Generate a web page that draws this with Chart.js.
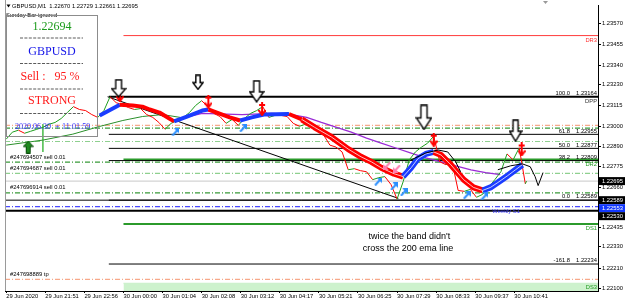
<!DOCTYPE html>
<html>
<head>
<meta charset="utf-8">
<script src="https://cdn.jsdelivr.net/npm/chart.js@4.4.0/dist/chart.umd.min.js"></script>
<style>
html, body { margin: 0; padding: 0; background: #fff; }
#wrap { position: relative; width: 625px; height: 303px; }
</style>
</head>
<body>
<div id="wrap"><canvas id="chart" width="625" height="303"></canvas></div>
<script>
// time axis (M1 bars, one label every 64 bars)
const timeTickBars = [0, 64, 128, 192, 256, 320, 384, 448, 512, 576, 640, 704, 768, 832];
const timeLabels = ['29 Jun 2020', '29 Jun 21:51', '29 Jun 22:56', '30 Jun 00:00', '30 Jun 01:04', '30 Jun 02:08',
    '30 Jun 03:12', '30 Jun 04:17', '30 Jun 05:21', '30 Jun 06:25', '30 Jun 07:29', '30 Jun 08:33', '30 Jun 09:37', '30 Jun 10:41'];
const priceTicks = [1.23570, 1.23455, 1.23340, 1.23230, 1.23115, 1.23000, 1.22890, 1.22775, 1.22660, 1.22435, 1.22330, 1.22210, 1.22100];

// price (closes sampled every 10 bars)
const priceBars = [0,10,20,30,40,50,60,70,80,90,100,110,120,130,140,150,160,170,180,190,200,210,220,230,240,250,260,270,280,290,
    300,310,320,330,340,350,360,370,380,390,400,410,420,430,440,450,460,470,480,490,500,510,520,530,540,550,560,570,580,590,
    600,610,620,630,640,650,660,670,680,690,700,710,720,730,740,750,760,770,780,790,800,810,820,830,840,850,852];
const priceCloses = [
    1.22928,1.22967,1.22978,1.22961,1.22972,1.22983,1.22994,1.23011,1.23021,1.23043,
    1.23076,1.23109,1.23093,1.23087,1.23065,1.23049,1.23087,1.23164,1.23131,1.23120,
    1.23104,1.23093,1.23098,1.23065,1.23049,1.23021,1.22983,1.23016,1.23032,1.23049,
    1.23076,1.23115,1.23142,1.23109,1.23071,1.23054,1.23016,1.23038,1.23005,1.23043,
    1.23071,1.23087,1.23109,1.23049,1.23060,1.23060,1.23054,1.23016,1.23000,1.23011,
    1.22994,1.22972,1.22950,1.22895,1.22884,1.22857,1.22758,1.22764,1.22753,1.22747,
    1.22703,1.22714,1.22720,1.22676,1.22595,1.22692,1.22813,1.22857,1.22884,1.22906,
    1.22945,1.22802,1.22786,1.22802,1.22643,1.22638,1.22649,1.22605,1.22621,1.22660,
    1.22703,1.22747,1.22846,1.22813,1.22880,1.22680,1.22695];

// red/blue band
const bandBars = [153,186,207,223,235,251,267,275,296,321,331,345,366,383,402,422,443,463,484,505,
    533,560,581,598,614,635,650,663,674,687,700,712,728,749,765,780,793,805,821,834,845];
const bandValues = [1.23060,1.23120,1.23115,1.23109,1.23093,1.23076,1.23043,1.23027,1.23054,1.23087,
    1.23093,1.23076,1.23049,1.23032,1.23049,1.23065,1.23066,1.23068,1.23038,1.22994,
    1.22939,1.22873,1.22830,1.22802,1.22769,1.22736,1.22720,1.22769,1.22819,1.22846,
    1.22857,1.22840,1.22786,1.22703,1.22660,1.22643,1.22660,1.22687,1.22725,1.22758,1.22786];

// 200 ema (purple) and the green ma
const emaBars = [272,321,386,435,467,492,516,541,565,590,614,638,663,687,712,736,761,785,809];
const emaValues = [1.23032,1.23071,1.23065,1.23071,1.23065,1.23049,1.23021,1.22994,1.22967,1.22934,
    1.22906,1.22879,1.22851,1.22824,1.22802,1.22780,1.22758,1.22742,1.22731];
const maBars = [0,60,109,153,191,223,256,285];
const maValues = [1.22895,1.22923,1.22956,1.22999,1.23032,1.23054,1.23065,1.23049];

// drawn objects
const trendBars = [166, 642];
const trendValues = [1.23164, 1.22599];
const swoosh1Bars = [663, 687, 707, 723, 736, 744];
const swoosh1Values = [1.22813, 1.22851, 1.22868, 1.22857, 1.22802, 1.22747];
const swoosh2Bars = [805, 826, 845, 858, 866, 871, 879];
const swoosh2Values = [1.22758, 1.22780, 1.22791, 1.22775, 1.22720, 1.22670, 1.22742];
const cursorBars = [60, 60];
const cursorValues = [1.23011, 1.22857];

// signal arrows
const bigArrowBars = [184, 314, 410, 684, 834];
const bigArrowPrices = [1.23211, 1.23244, 1.23194, 1.23049, 1.22975];
const sellArrowBars = [186, 331, 419, 700, 844];
const sellArrowPrices = [1.23172, 1.23137, 1.23096, 1.22925, 1.22871];
const upArrowBars = [277, 388, 609, 635, 651, 754, 783];
const upArrowPrices = [1.22967, 1.22989, 1.22692, 1.22665, 1.22632, 1.22616, 1.22610];
const pinkArrowBars = [624, 640];
const pinkArrowPrices = [1.22780, 1.22764];
const buyArrowBars = [36];
const buyArrowPrices = [1.22884];

// levels
const fibStartBar = 168;
const fibRatios = ['100.0', '61.8', '50.0', '38.2', '0.0', '-161.8'];
const fibPrices = [1.23164, 1.22955, 1.22877, 1.22809, 1.22589, 1.22234];
const pivotStartBar = 192;
const pivotNames = ['DR3', 'DPP', 'DR2', 'DS1', 'DS3'];
const pivotPrices = [1.23504, 1.23164, 1.22815, 1.22457, 1.22127];
const orderPrices = [1.23005, 1.22989, 1.22915, 1.22800, 1.22738, 1.22630, 1.22149];
const orderKinds = ['tp', 'open', 'open2', 'open', 'open2', 'open', 'tp'];
const orderTexts = ['', '', '', '#247694507 sell 0.01', '#247694687 sell 0.01', '#247696914 sell 0.01', '#247698889 tp'];
const hLinePrices = [1.22589, 1.22530];
const bidPrice = 1.22695;
const weeklyS1 = 1.22553;
const axisMarkPrices = [1.22695, 1.22589, 1.22553, 1.22530];

const X_MIN = -2, X_MAX = 969;
const SMALL = '5.8px "Liberation Sans", Arial, sans-serif';
const SERIF = '"Liberation Serif", "Times New Roman", serif';

function pts(xs, ys) { return xs.map((x, i) => ({ x: x, y: ys[i] })); }

function lineSet(data, color, width, dash) {
    return { data: data, borderColor: color, borderWidth: width, borderDash: dash || [],
        showLine: true, pointRadius: 0, fill: false };
}
function hLine(price, fromBar, color, width, dash) {
    return lineSet([{ x: fromBar, y: price }, { x: X_MAX, y: price }], color, width, dash);
}

function makeCanvas(w, h, draw) {
    const c = document.createElement('canvas');
    c.width = w; c.height = h;
    draw(c.getContext('2d'), w, h);
    return c;
}
function hollowArrow(w, h) {
    return makeCanvas(w, h, function(g) {
        const s = w * 0.18, hy = h * 0.52;
        g.beginPath();
        g.moveTo(w / 2 - s, 1); g.lineTo(w / 2 + s, 1); g.lineTo(w / 2 + s, hy);
        g.lineTo(w - 1, hy); g.lineTo(w / 2, h - 1); g.lineTo(1, hy); g.lineTo(w / 2 - s, hy);
        g.closePath();
        g.fillStyle = '#fff'; g.fill();
        g.lineWidth = 1.4; g.strokeStyle = '#000'; g.stroke();
    });
}
const redArrow = makeCanvas(8, 14, function(g) {
    g.strokeStyle = '#ff0000'; g.lineWidth = 2;
    g.beginPath(); g.moveTo(4, 0); g.lineTo(4, 13); g.stroke();
    g.beginPath(); g.moveTo(1, 3); g.lineTo(7, 3); g.stroke();
    g.beginPath(); g.moveTo(0.5, 8); g.lineTo(4, 13); g.lineTo(7.5, 8); g.stroke();
});
function diagArrow(color) {
    return makeCanvas(8, 8, function(g) {
        g.fillStyle = color; g.strokeStyle = color;
        g.beginPath(); g.moveTo(8, 0); g.lineTo(8, 5.5); g.lineTo(2.5, 0); g.closePath(); g.fill();
        g.lineWidth = 2; g.beginPath(); g.moveTo(1, 7.5); g.lineTo(6, 2); g.stroke();
    });
}
const buyArrow = makeCanvas(11, 13, function(g) {
    g.beginPath();
    g.moveTo(5.5, 0.5); g.lineTo(10.5, 6); g.lineTo(7.5, 6); g.lineTo(7.5, 12.5);
    g.lineTo(3.5, 12.5); g.lineTo(3.5, 6); g.lineTo(0.5, 6); g.closePath();
    g.fillStyle = '#1f8a1f'; g.fill(); g.lineWidth = 1; g.strokeStyle = '#0b4d0b'; g.stroke();
});
const bigArrowImgs = [hollowArrow(16, 19), hollowArrow(12, 16), hollowArrow(16, 23), hollowArrow(17, 26), hollowArrow(14, 23)];

function markerSet(data, style, rotation) {
    return { data: data, showLine: false, pointRadius: 3, pointStyle: style, rotation: rotation || 0 };
}

const datasets = [];
datasets.push(markerSet(pts(bigArrowBars, bigArrowPrices), function(c) { return bigArrowImgs[c.dataIndex]; }));
datasets.push(markerSet(pts(sellArrowBars, sellArrowPrices), redArrow));
datasets.push(markerSet(pts(upArrowBars, upArrowPrices), diagArrow('#2b8fff')));
datasets.push(markerSet(pts(pinkArrowBars, pinkArrowPrices), diagArrow('#ff7fb0'), 180));
datasets.push(markerSet(pts(buyArrowBars, buyArrowPrices), buyArrow));
datasets.push(lineSet(pts(swoosh1Bars, swoosh1Values), '#000', 1));
datasets.push(lineSet(pts(swoosh2Bars, swoosh2Values), '#000', 1));

// band, with a thin light stripe on the wider ribbon part
const bandStripe = lineSet(pts(bandBars, bandValues), 'rgba(255,255,255,0)', 1);
bandStripe.segment = { borderColor: function(c) { return c.p0.parsed.x >= 484 ? 'rgba(255,255,255,0.75)' : 'rgba(255,255,255,0)'; } };
datasets.push(bandStripe);
const band = lineSet(pts(bandBars, bandValues), '#ff0000', 4);
band.segment = {
    borderColor: function(c) { return c.p1.parsed.y > c.p0.parsed.y ? '#1a3cff' : '#ff0000'; },
    borderWidth: function(c) { return c.p0.parsed.x >= 484 ? 6 : 4; }
};
band.borderJoinStyle = 'round';
datasets.push(band);

const price = lineSet(pts(priceBars, priceCloses), '#ff0000', 1);
price.segment = { borderColor: function(c) { return c.p1.parsed.y >= c.p0.parsed.y ? '#1e9e1e' : '#ff0000'; } };
datasets.push(price);
datasets.push(lineSet(pts(emaBars, emaValues), '#9a2bd6', 1.3));
datasets.push(lineSet(pts(maBars, maValues), '#2a8f2a', 1));
datasets.push(lineSet(pts(trendBars, trendValues), '#000', 1));
datasets.push(lineSet(pts(cursorBars, cursorValues), '#5cc35c', 1));

// fibo
fibPrices.forEach(function(p, i) {
    datasets.push(hLine(p, fibStartBar, '#000', i === 0 ? 2 : 1));
});
// pivots
const pivotColors = { DR3: '#ff3b3b', DPP: 'rgba(0,0,0,0)', DR2: '#2b9a2b', DS1: '#2b9a2b' };
pivotNames.forEach(function(n, i) {
    if (n === 'DS3') {
        const ds = hLine(pivotPrices[i], pivotStartBar, '#c9f0c9', 1);
        ds.fill = 'start';
        ds.backgroundColor = '#cdf2cd';
        datasets.push(ds);
    } else {
        datasets.push(hLine(pivotPrices[i], pivotStartBar, pivotColors[n], n === 'DR3' ? 1 : 2));
    }
});
// order lines
const orderColors = { open: '#3a9a3a', open2: '#8fd08f', tp: '#f7a98a' };
orderPrices.forEach(function(p, i) {
    datasets.push(hLine(p, X_MIN, orderColors[orderKinds[i]], 1.2, [5, 2, 1, 2]));
});
hLinePrices.forEach(function(p, i) {
    datasets.push(hLine(p, X_MIN, '#000', i === 1 ? 2 : 1));
});
datasets.push(hLine(weeklyS1, X_MIN, '#4a4aff', 1.2, [5, 2, 1, 2]));
datasets.push(hLine(bidPrice, X_MIN, '#c8c8c8', 1));

const mtText = {
    id: 'mtText',
    afterDatasetsDraw: function(chart) {
        const ctx = chart.ctx, a = chart.chartArea, x = chart.scales.x, y = chart.scales.y;
        ctx.save();
        ctx.font = SMALL;
        // fibo labels
        ctx.fillStyle = '#000';
        ctx.textBaseline = 'bottom';
        ctx.textAlign = 'right';
        fibPrices.forEach(function(p, i) {
            const py = y.getPixelForValue(p);
            ctx.fillText(fibRatios[i], a.right - 28, py - 0.5);
            ctx.fillText(p.toFixed(5), a.right - 1, py - 0.5);
        });
        // pivot labels
        const labelColors = { DR3: '#ff3030', DPP: '#333', DR2: '#1f9a1f', DS1: '#1f9a1f', DS3: '#1f9a1f' };
        ctx.textBaseline = 'top';
        pivotNames.forEach(function(n, i) {
            ctx.fillStyle = labelColors[n];
            ctx.fillText(n, a.right - 1, y.getPixelForValue(pivotPrices[i]) + 1.5);
        });
        // order labels
        ctx.textAlign = 'left';
        ctx.textBaseline = 'bottom';
        ctx.fillStyle = '#000';
        orderTexts.forEach(function(t, i) {
            if (t) ctx.fillText(t, a.left + 5, y.getPixelForValue(orderPrices[i]) - 2);
        });
        ctx.fillStyle = '#3a3aff';
        ctx.textBaseline = 'top';
        ctx.fillText('Weekly S1', x.getPixelForValue(796), y.getPixelForValue(weeklyS1) + 1.5);
        // note
        ctx.fillStyle = '#000';
        ctx.font = '9px "Liberation Sans", Arial, sans-serif';
        ctx.textAlign = 'center';
        ctx.textBaseline = 'middle';
        ctx.fillText("twice the band didn't", x.getPixelForValue(660), y.getPixelForValue(1.22388));
        ctx.fillText('cross the 200 ema line', x.getPixelForValue(658), y.getPixelForValue(1.22320));
        ctx.restore();
    },
    afterDraw: function(chart) {
        const ctx = chart.ctx, a = chart.chartArea, y = chart.scales.y;
        ctx.save();
        // left frame
        ctx.strokeStyle = '#9a9a9a'; ctx.lineWidth = 1;
        ctx.beginPath(); ctx.moveTo(a.left + 0.5, 0); ctx.lineTo(a.left + 0.5, a.bottom); ctx.stroke();
        // price marks on the axis
        const markColors = ['#000', '#000', '#1238ff', '#000'];
        let prev = -100;
        ctx.font = SMALL; ctx.textAlign = 'left'; ctx.textBaseline = 'middle';
        axisMarkPrices.forEach(function(p, i) {
            let py = y.getPixelForValue(p);
            if (py < prev + 8) py = prev + 8;
            prev = py;
            ctx.fillStyle = markColors[i];
            ctx.fillRect(a.right + 1, py - 4, 26, 8);
            ctx.fillStyle = '#fff';
            ctx.fillText(p.toFixed(5), a.right + 4, py + 0.5);
        });
        // title
        ctx.fillStyle = '#000';
        ctx.beginPath(); ctx.moveTo(6.5, 4.5); ctx.lineTo(10.5, 4.5); ctx.lineTo(8.5, 7.5); ctx.closePath(); ctx.fill();
        ctx.fillText('GBPUSD,M1  1.22670 1.22729 1.22661 1.22695', 12, 6);
        ctx.fillText('Sunday Bar ignored', 6, 15);
        ctx.fillStyle = '#999';
        ctx.beginPath(); ctx.moveTo(543, 1); ctx.lineTo(548, 1); ctx.lineTo(545.5, 4); ctx.closePath(); ctx.fill();
        // info box
        ctx.strokeStyle = '#8c8c8c';
        ctx.strokeRect(6.5, 15.5, 91, 121);
        ctx.textAlign = 'center';
        ctx.font = '12px ' + SERIF;
        ctx.fillStyle = '#1a9a1a'; ctx.fillText('1.22694', 52, 27);
        ctx.fillStyle = '#1515e8'; ctx.fillText('GBPUSD', 52, 51.5);
        ctx.fillStyle = '#ff1a1a'; ctx.fillText('Sell :   95 %', 50, 77);
        ctx.fillText('STRONG', 52, 101);
        ctx.strokeStyle = '#5a5a5a';
        ctx.setLineDash([3, 1.4]);
        [38, 63.5, 89, 113.5].forEach(function(dy) {
            ctx.beginPath(); ctx.moveTo(20, dy); ctx.lineTo(83, dy); ctx.stroke();
        });
        ctx.setLineDash([]);
        ctx.font = '8px ' + SERIF;
        ctx.fillStyle = '#3030ff';
        ctx.textAlign = 'left';
        ctx.fillText('2020.06.30', 15, 127);
        ctx.fillText('+', 55, 127);
        ctx.fillText('11:01:59', 62, 127);
        ctx.restore();
    }
};

new Chart(document.getElementById('chart'), {
    type: 'scatter',
    data: { datasets: datasets },
    options: {
        responsive: false,
        animation: false,
        devicePixelRatio: 1,
        events: [],
        layout: { padding: { left: 2, top: 1, right: 0, bottom: 0 } },
        plugins: { legend: { display: false }, tooltip: { enabled: false } },
        scales: {
            x: {
                type: 'linear', min: X_MIN, max: X_MAX,
                afterFit: function(s) { s.height = 12; },
                afterBuildTicks: function(s) { s.ticks = timeTickBars.map(function(v) { return { value: v }; }); },
                grid: { drawOnChartArea: false, tickLength: 2, color: '#000' },
                border: { color: '#000' },
                ticks: {
                    autoSkip: false, maxRotation: 0, align: 'start', padding: 0, color: '#000',
                    font: { size: 5.8, family: '"Liberation Sans", Arial, sans-serif' },
                    callback: function(v, i) { return timeLabels[i]; }
                }
            },
            y: {
                type: 'linear', position: 'right', min: 1.22084, max: 1.23674,
                afterFit: function(s) { s.width = 27; },
                afterBuildTicks: function(s) { s.ticks = priceTicks.map(function(v) { return { value: v }; }); },
                grid: { drawOnChartArea: false, tickLength: 3, color: '#000' },
                border: { color: '#000' },
                ticks: {
                    padding: 1, color: '#000',
                    font: { size: 5.8, family: '"Liberation Sans", Arial, sans-serif' },
                    callback: function(v) { return v.toFixed(5); }
                }
            }
        }
    },
    plugins: [mtText]
});
</script>
</body>
</html>
